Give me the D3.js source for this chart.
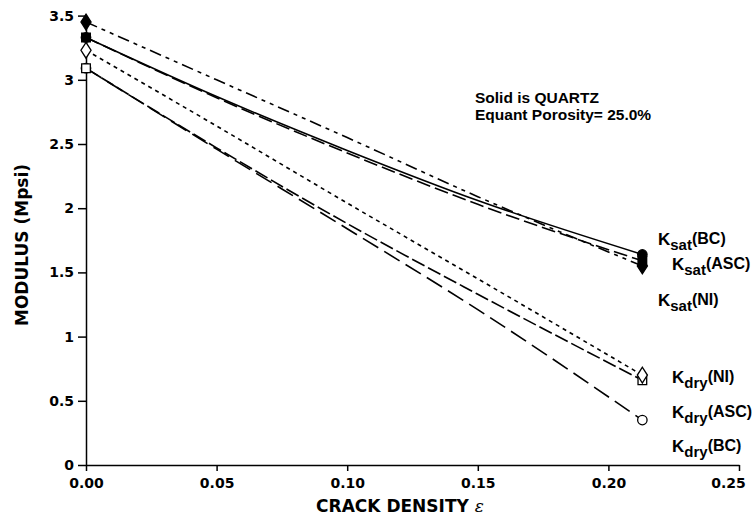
<!DOCTYPE html>
<meta charset="utf-8">
<style>
body { margin: 0; background: #fff; }
svg text { font-family: "DejaVu Sans", "Liberation Sans", Arial, sans-serif; font-weight: bold; fill: #000; }
.axis path, .axis line { stroke: #000; stroke-width: 1.5px; }
.axis text { font-size: 14px; }
.series { fill: none; stroke: #000; stroke-width: 1.6px; }
svg text.lbl { font-family: "Liberation Sans", Arial, sans-serif; }
</style>
<svg width="753" height="518"></svg>
<script src="https://d3js.org/d3.v7.min.js"></script>
<script>

// crack density values (markers only at the ends)
var crackDensity = [0, 0.05, 0.10, 0.15, 0.213];

var ksatBC  = [3.33, 2.87, 2.45, 2.06, 1.64];
var ksatASC = [3.33, 2.86, 2.43, 2.03, 1.59];
var ksatNI  = [3.45, 3.00, 2.55, 2.09, 1.55];
var kdryBC  = [3.09, 2.46, 1.84, 1.21, 0.35];
var kdryASC = [3.09, 2.47, 1.88, 1.33, 0.66];
var kdryNI  = [3.23, 2.64, 2.04, 1.45, 0.70];

var xTicks = [0, 0.05, 0.10, 0.15, 0.20, 0.25];
var yTicks = [0, 0.5, 1, 1.5, 2, 2.5, 3, 3.5];

var svg = d3.select("svg");

var x = d3.scaleLinear().domain([0, 0.25]).range([86, 739]);
var y = d3.scaleLinear().domain([0, 3.5]).range([465, 15.6]);

var series = [
  { vals: kdryBC,  dash: "18,7",  shape: "circle",  filled: false },
  { vals: kdryASC, dash: "14,4",  shape: "square",  filled: false },
  { vals: kdryNI,  dash: "4,4",   shape: "diamond", filled: false },
  { vals: ksatBC,  dash: null,    shape: "circle",  filled: true },
  { vals: ksatASC, dash: "14,5",  shape: "square",  filled: true },
  { vals: ksatNI,  dash: "12,5,4,5,4,5", shape: "diamond", filled: true }
];

// axes
svg.append("g")
    .attr("class", "axis")
    .attr("transform", "translate(0," + y(0) + ")")
    .call(d3.axisBottom(x).tickValues(xTicks).tickFormat(d3.format(".2f")).tickSize(6).tickSizeOuter(0))
  .selectAll("text")
    .attr("dy", "1.0em")
    .attr("dx", function(d) { return d === 0.25 ? -11 : 0; });

svg.append("g")
    .attr("class", "axis")
    .attr("transform", "translate(" + x(0) + ",0)")
    .call(d3.axisLeft(y).tickValues(yTicks).tickFormat(d3.format("")).tickSize(8).tickSizeOuter(0))
  .selectAll("text")
    .attr("dx", "-1px");

// lines
var line = d3.line()
    .x(function(d, i) { return x(crackDensity[i]); })
    .y(function(d) { return y(d); })
    .curve(d3.curveMonotoneX);

svg.append("g").selectAll("path")
  .data(series)
  .enter().append("path")
    .attr("class", "series")
    .attr("d", function(d) { return line(d.vals); })
    .attr("stroke-dasharray", function(d) { return d.dash; });

// markers at first and last point
var symbols = { circle: d3.symbolCircle, square: d3.symbolSquare, diamond: d3.symbolDiamond };
var sizes = { circle: 70, square: 75, diamond: 80 };

var marks = [];
series.forEach(function(s) {
  var last = s.vals.length - 1;
  marks.push({ s: s, cx: crackDensity[0], cy: s.vals[0] });
  marks.push({ s: s, cx: crackDensity[last], cy: s.vals[last] });
});

svg.append("g").selectAll("path")
  .data(marks)
  .enter().append("path")
    .attr("transform", function(d) {
      var sx = d.s.shape === "diamond" ? "scale(1.05,0.95)" : "";
      return "translate(" + x(d.cx) + "," + y(d.cy) + ")" + sx;
    })
    .attr("d", function(d) { return d3.symbol().type(symbols[d.s.shape]).size(sizes[d.s.shape])(); })
    .attr("fill", function(d) { return d.s.filled ? "#000" : "#fff"; })
    .attr("stroke", "#000")
    .attr("stroke-width", 1.3);

// curve labels
var labels = [
  { sub: "sat", tag: "(BC)",  lx: 658, ly: 245 },
  { sub: "sat", tag: "(ASC)", lx: 672, ly: 270 },
  { sub: "sat", tag: "(NI)",  lx: 658, ly: 306 },
  { sub: "dry", tag: "(NI)",  lx: 672, ly: 383 },
  { sub: "dry", tag: "(ASC)", lx: 672, ly: 418 },
  { sub: "dry", tag: "(BC)",  lx: 672, ly: 452 }
];

var lab = svg.append("g").selectAll("text")
  .data(labels)
  .enter().append("text")
    .attr("class", "lbl")
    .attr("x", function(d) { return d.lx; })
    .attr("y", function(d) { return d.ly; });
lab.append("tspan").attr("font-size", 17).text("K");
lab.append("tspan").attr("font-size", 15).attr("dy", 5).text(function(d) { return d.sub; });
lab.append("tspan").attr("font-size", 16).attr("dy", -6).text(function(d) { return d.tag; });

// annotation
svg.append("text").attr("class", "lbl").attr("x", 475).attr("y", 103).attr("font-size", 15.5).text("Solid is QUARTZ");
svg.append("text").attr("class", "lbl").attr("x", 475).attr("y", 120).attr("font-size", 15.5).text("Equant Porosity= 25.0%");

// axis titles
svg.append("text")
    .attr("transform", "translate(28,245) rotate(-90)")
    .attr("text-anchor", "middle")
    .attr("font-size", 17)
    .text("MODULUS (Mpsi)");

var xt = svg.append("text")
    .attr("x", 400)
    .attr("y", 512)
    .attr("text-anchor", "middle")
    .attr("font-size", 17)
    .text("CRACK DENSITY ");
xt.append("tspan").attr("font-style", "italic").attr("font-weight", "normal").attr("font-family", "DejaVu Serif").text("\u03b5");

</script>
